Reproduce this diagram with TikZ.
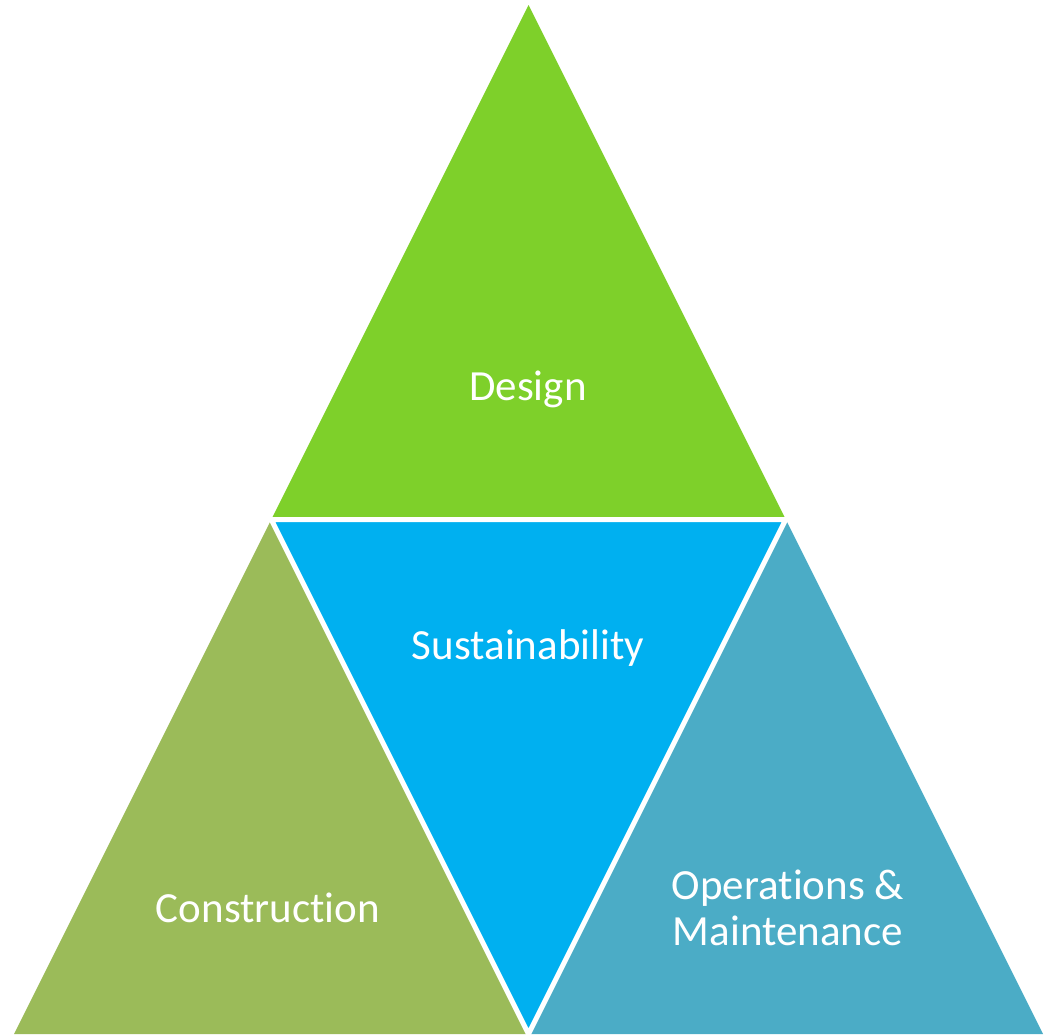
\documentclass[tikz,border=0pt]{standalone}
\usepackage{fontspec}
\setmainfont[Ligatures=NoCommon]{Carlito}
\definecolor{cgreen}{HTML}{7ED02A}
\definecolor{cblue}{HTML}{00B0F0}
\definecolor{colive}{HTML}{9BBB59}
\definecolor{cteal}{HTML}{4BACC6}
\begin{document}
\begin{tikzpicture}[x=1pt,y=-1pt,
  lbl/.style={text=white,font=\fontsize{43}{46}\selectfont,align=center,inner sep=0pt}]
\useasboundingbox (0,0) rectangle (1046,1034);
\coordinate (A) at (528.5,5);
\coordinate (L) at (14,1034);
\coordinate (R) at (1043,1034);
\coordinate (ML) at (271.25,519.5);
\coordinate (MR) at (785.75,519.5);
\coordinate (MB) at (528.5,1034);
\fill[cgreen] (A) -- (MR) -- (ML) -- cycle;
\fill[colive] (ML) -- (MB) -- (L) -- cycle;
\fill[cteal] (MR) -- (R) -- (MB) -- cycle;
\fill[cblue] (ML) -- (MR) -- (MB) -- cycle;
\draw[white,line width=5,line join=miter] (ML) -- (MR) -- (MB) -- cycle;
\node[lbl] (design) at (528,389) {Design};
\node[lbl] (sust) at (528,648) {Sustainability};
\node[lbl] (cons) at (268,908) {Construction};
\node[lbl] (ops) at (788,908) {Operations \&\\Maintenance};
\end{tikzpicture}
\end{document}
